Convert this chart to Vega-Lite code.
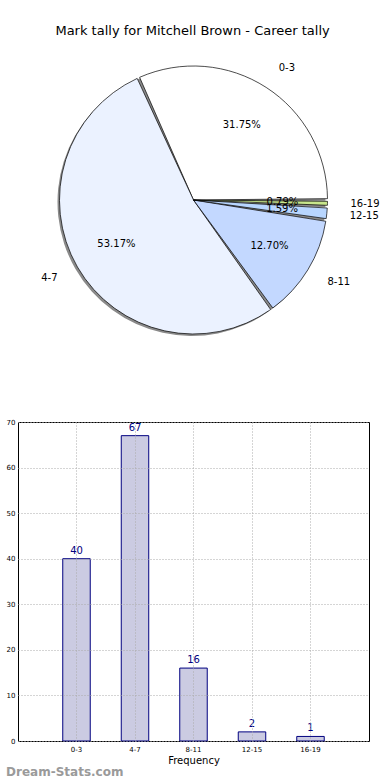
{
  "$schema": "https://vega.github.io/schema/vega-lite/v6.json",
  "padding": {"left": 5, "top": 25, "right": 0, "bottom": 0},
  "background": "white",
  "config": {"font": "DejaVu Sans", "view": {"stroke": null}},
  "title": {"text": "Mark tally for Mitchell Brown - Career tally", "fontSize": 13, "fontWeight": "normal", "font": "DejaVu Sans", "color": "#000000", "anchor": "middle", "offset": 15},
  "datasets": {
    "tally": [
      {"idx": 1, "cat": "0-3", "count": 40, "pct": "31.75%"},
      {"idx": 2, "cat": "4-7", "count": 67, "pct": "53.17%"},
      {"idx": 3, "cat": "8-11", "count": 16, "pct": "12.70%"},
      {"idx": 4, "cat": "12-15", "count": 2, "pct": "1.59%"},
      {"idx": 5, "cat": "16-19", "count": 1, "pct": "0.79%"}
    ]
  },
  "data": {"name": "tally"},
  "bounds": "flush",
  "spacing": 75,
  "vconcat": [
    {
      "width": 351,
      "height": 294,
      "view": {"stroke": null},
      "encoding": {
        "theta": {"field": "count", "type": "quantitative", "stack": true, "scale": {"range": [1.5708, 7.854]}},
        "order": {"field": "idx", "type": "quantitative", "sort": "descending"}
      },
      "layer": [
        {"mark": {"type": "arc", "outerRadius": 134, "padAngle": 0.02, "fill": "#8a8a8a", "xOffset": -2, "yOffset": 2}},
        {
          "mark": {"type": "arc", "outerRadius": 134, "padAngle": 0.02, "stroke": "#000000", "strokeWidth": 0.7},
          "encoding": {
            "color": {"field": "cat", "type": "nominal", "legend": null,
              "scale": {"domain": ["0-3", "4-7", "8-11", "12-15", "16-19"], "range": ["#ffffff", "#ebf2ff", "#c3d8ff", "#b8d6ff", "#c8e68c"]}}
          }
        },
        {"mark": {"type": "text", "radius": 89, "fontSize": 10, "color": "#000000"}, "encoding": {"text": {"field": "pct"}}},
        {"mark": {"type": "text", "radius": 157, "fontSize": 10, "align": "left", "color": "#000000"},
          "encoding": {"text": {"condition": {"test": "datum.cat == '4-7'", "value": ""}, "field": "cat"}}},
        {"mark": {"type": "text", "radius": 157, "fontSize": 10, "align": "right", "color": "#000000"},
          "encoding": {"text": {"condition": {"test": "datum.cat != '4-7'", "value": ""}, "field": "cat"}}}
      ]
    },
    {
      "width": 351,
      "height": 319,
      "view": {"stroke": "#000000", "strokeWidth": 1},
      "title": {"text": "Dream-Stats.com", "orient": "bottom", "anchor": "start", "frame": "bounds", "color": "#9a9a9a", "fontSize": 12, "fontWeight": "bold", "offset": 2},
      "encoding": {
        "x": {"field": "cat", "type": "nominal", "sort": null,
          "scale": {"paddingInner": 0, "paddingOuter": 0.5},
          "axis": {"labelAngle": 0, "labelFontSize": 7, "labelColor": "#000000", "labelPadding": 4, "ticks": false, "domain": false,
            "grid": true, "gridDash": [1, 2], "gridColor": "#aaaaaa", "bandPosition": 0.5, "zindex": 1,
            "title": "Frequency", "titleFontSize": 10, "titleFontWeight": "normal", "titleColor": "#000000", "titlePadding": 3}},
        "y": {"field": "count", "type": "quantitative", "scale": {"domain": [0, 70]},
          "axis": {"values": [0, 10, 20, 30, 40, 50, 60, 70], "labelFontSize": 7, "labelColor": "#000000", "labelPadding": 3, "ticks": false, "domain": false,
            "grid": true, "gridDash": [1, 2], "gridColor": "#aaaaaa", "zindex": 1, "title": null}}
      },
      "layer": [
        {"mark": {"type": "bar", "width": {"band": 0.47}, "fill": "#cbcbe2", "stroke": "#000080", "strokeWidth": 1}},
        {"mark": {"type": "text", "baseline": "bottom", "dy": -3, "fontSize": 10, "color": "#000080"}, "encoding": {"text": {"field": "count"}}}
      ]
    }
  ]
}
